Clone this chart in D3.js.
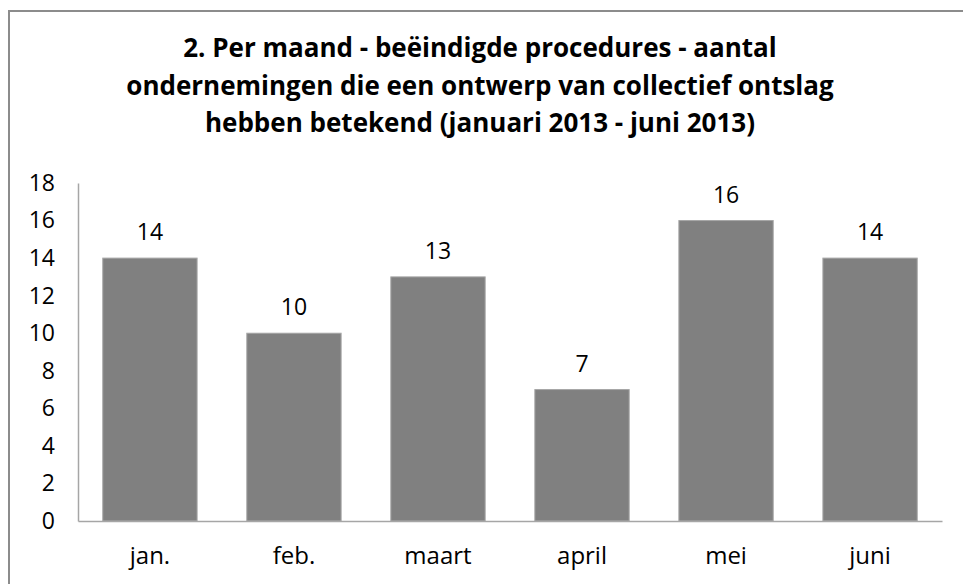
<!DOCTYPE html>
<html>
<head>
<meta charset="utf-8">
<script src="https://cdn.jsdelivr.net/npm/d3@7"></script>
<style>
  html, body { margin: 0; padding: 0; background: #fff; }
  svg { display: block; font-family: "Open Sans", Lato, sans-serif; }
</style>
</head>
<body>
<svg id="chart" width="963" height="584"></svg>
<script>
const titleLines = [
  "2. Per maand  - beëindigde procedures - aantal",
  "ondernemingen die een ontwerp van collectief ontslag",
  "hebben betekend (januari 2013 - juni 2013)"
];
const months = ["jan.", "feb.", "maart", "april", "mei", "juni"];
const counts = [14, 10, 13, 7, 16, 14];
const yTicks = [0, 2, 4, 6, 8, 10, 12, 14, 16, 18];

const font = "'Open Sans', Lato, sans-serif";
const svg = d3.select("#chart");
const plot = {left: 78, right: 942, top: 183, bottom: 521};

// outer frame (cropped on the right and bottom in the original)
svg.append("rect")
  .attr("x", 9).attr("y", 11)
  .attr("width", 980).attr("height", 600)
  .attr("fill", "none").attr("stroke", "#8c8c8c").attr("stroke-width", 2);

svg.append("g").selectAll("text")
  .data(titleLines)
  .join("text")
  .attr("x", 480)
  .attr("y", (d, i) => 57 + i * 37.5)
  .attr("text-anchor", "middle")
  .attr("font-weight", "bold")
  .attr("font-size", 26)
  .attr("fill", "#000")
  .text(d => d);

const x = d3.scaleBand().domain(months)
  .range([plot.left, plot.right])
  .paddingInner(0.345).paddingOuter(0.172);
const y = d3.scaleLinear().domain([0, 18]).range([plot.bottom, plot.top]);

const data = months.map((m, i) => ({month: m, value: counts[i]}));

svg.append("g").selectAll("rect")
  .data(data)
  .join("rect")
  .attr("x", d => x(d.month))
  .attr("y", d => y(d.value))
  .attr("width", x.bandwidth())
  .attr("height", d => y(0) - y(d.value))
  .attr("fill", "#808080")
  .attr("stroke", "#a6a6a6")
  .attr("stroke-width", 1);

svg.append("g").selectAll("text")
  .data(data)
  .join("text")
  .attr("x", d => x(d.month) + x.bandwidth() / 2)
  .attr("y", d => y(d.value) - 18)
  .attr("text-anchor", "middle")
  .attr("font-size", 23)
  .attr("fill", "#000")
  .text(d => d.value);

// y axis
const yAxis = svg.append("g")
  .attr("transform", `translate(${plot.left},0)`)
  .call(d3.axisLeft(y).tickValues(yTicks).tickSize(0).tickPadding(23));
yAxis.select(".domain").attr("stroke", "#a6a6a6").attr("stroke-width", 1.5);
yAxis.selectAll("text").attr("font-size", 23).attr("fill", "#000")
  .attr("font-family", font);

// x axis
const xAxis = svg.append("g")
  .attr("transform", `translate(0,${plot.bottom})`)
  .call(d3.axisBottom(x).tickSize(0).tickPadding(26));
xAxis.select(".domain").attr("stroke", "#a6a6a6").attr("stroke-width", 1.5);
xAxis.selectAll("text").attr("font-size", 24).attr("fill", "#000")
  .attr("font-family", font);
</script>
</body>
</html>
